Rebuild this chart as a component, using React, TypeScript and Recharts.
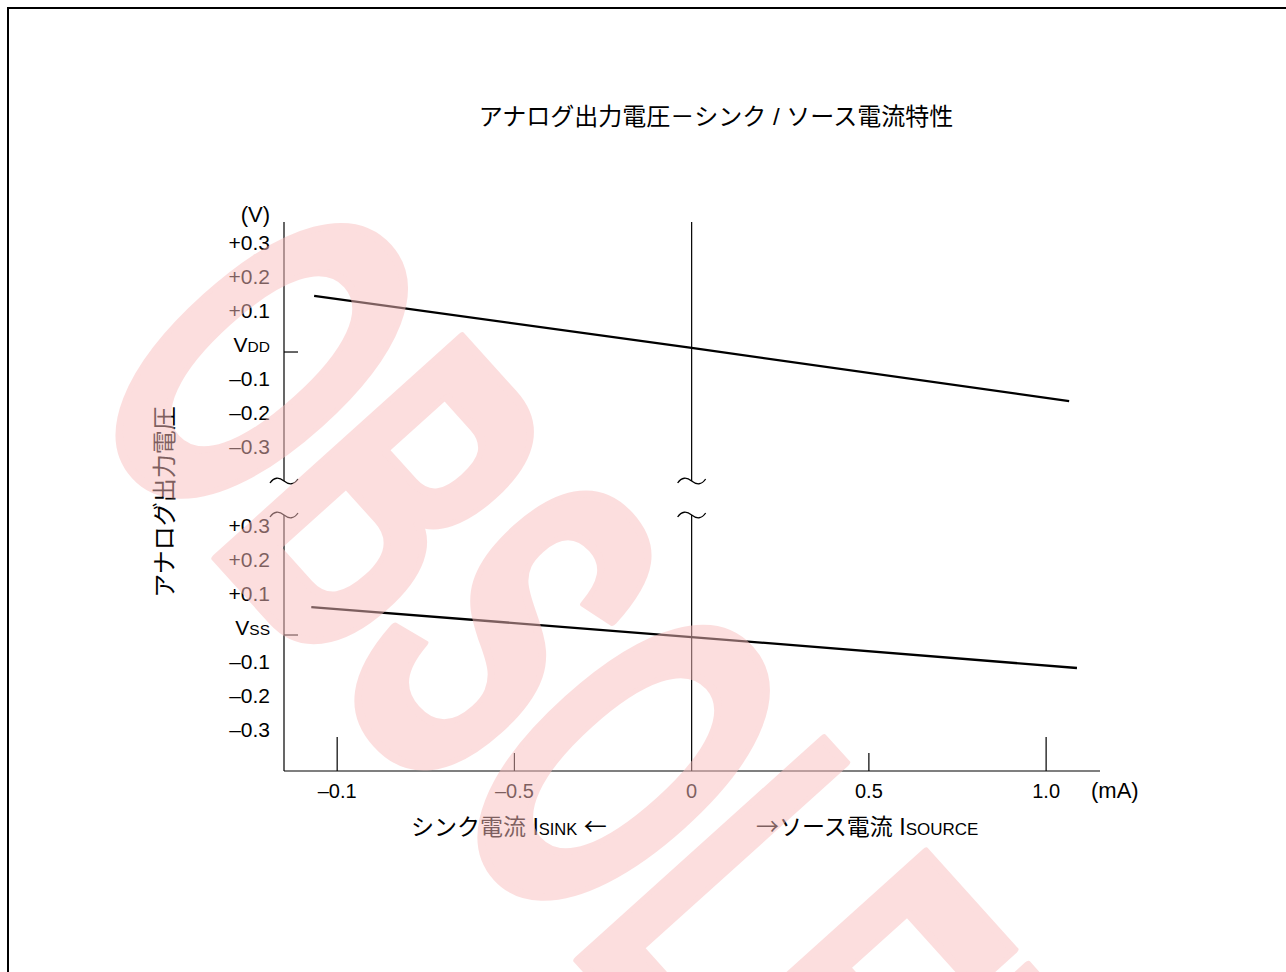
import React from 'react';
import { ComposedChart, Line, XAxis, YAxis, ReferenceLine, ReferenceDot } from 'recharts';

// current axis (mA), sink is negative, source positive
const currentTicks = [-1, -0.5, 0, 0.5, 1];
const currentTickLabels = ['–0.1', '–0.5', '0', '0.5', '1.0'];
const currentDomain = [-1.15, 1.152];

// deviation from the rail (V)
const voltTicks = [0.3, 0.2, 0.1, 0, -0.1, -0.2, -0.3];
const voltTickLabels = ['+0.3', '+0.2', '+0.1', 'V', '–0.1', '–0.2', '–0.3'];
const upperDomain = [-0.379, 0.382];
const lowerDomain = [-0.4, 0.353];

// VDD side curve
const vddCurrent = [-1.065, 0, 1.065];
const vddDelta = [0.165, 0.012, -0.144];

// VSS side curve
const vssCurrent = [-1.073, 0, 1.087];
const vssDelta = [0.082, -0.006, -0.097];

const vddData = vddCurrent.map((c, i) => ({ current: c, v: vddDelta[i] }));
const vssData = vssCurrent.map((c, i) => ({ current: c, v: vssDelta[i] }));

const LATIN = "'Liberation Sans', Arial, 'Noto Sans CJK JP', sans-serif";
const CJK = "'Noto Sans CJK JP', sans-serif";

const VoltTick = ({ x, y, payload, sub }: any) => {
  const i = voltTicks.indexOf(payload.value);
  const label = voltTickLabels[i];
  if (payload.value === 0) {
    return (
      <g>
        <text x={x} y={y} textAnchor="end" fontSize={21} fontFamily={LATIN} fill="#000">
          {label}
          <tspan fontSize={15.5}>{sub}</tspan>
        </text>
        <line x1={x + 14} x2={x + 28} y1={y} y2={y} stroke="#000" strokeWidth={1.2} />
      </g>
    );
  }
  return (
    <text x={x} y={y} textAnchor="end" fontSize={21} fontFamily={LATIN} fill="#000">
      {label}
    </text>
  );
};

const CurrentTick = ({ x, y, payload }: any) => {
  const i = currentTicks.indexOf(payload.value);
  const len = Math.abs(payload.value) === 1 ? 34 : Math.abs(payload.value) === 0.5 ? 18 : 0;
  return (
    <g>
      {len > 0 && <line x1={x} x2={x} y1={y} y2={y - len} stroke="#000" strokeWidth={1.2} />}
      <text x={x} y={y + 27} textAnchor="middle" fontSize={20} fontFamily={LATIN} fill="#000">
        {currentTickLabels[i]}
      </text>
    </g>
  );
};

// the "~" axis break mark
const BreakMark = ({ cx, cy }: any) => (
  <path
    d={`M${cx - 14},${cy + 2} C${cx - 10},${cy - 4} ${cx - 5},${cy - 4} ${cx},${cy} C${cx + 5},${cy + 4} ${cx + 10},${cy + 4} ${cx + 14},${cy - 2}`}
    fill="none"
    stroke="#000"
    strokeWidth={1.3}
  />
);

export default function App() {
  return (
    <div style={{ position: 'absolute', left: 0, top: 0, width: 1286, height: 972, overflow: 'hidden', background: '#fff' }}>
      <div style={{ position: 'absolute', left: 7, top: 7, width: 1320, height: 1020, border: '2px solid #000' }} />

      <svg width={1286} height={972} style={{ position: 'absolute', left: 0, top: 0 }}>
        <text x={716} y={125} textAnchor="middle" fontSize={24} fontFamily={LATIN} fill="#000">
          アナログ出力電圧－シンク / ソース電流特性
        </text>
        <text x={270} y={222} textAnchor="end" fontSize={22} fontFamily={LATIN} fill="#000">(V)</text>
        <text x={1091} y={798} fontSize={22} fontFamily={LATIN} fill="#000">(mA)</text>
        <text
          x={164}
          y={502}
          transform="rotate(-90 164 502)"
          textAnchor="middle"
          dominantBaseline="central"
          fontSize={24}
          fontFamily={LATIN}
          fill="#000"
        >
          アナログ出力電圧
        </text>
        <text x={411} y={835} fontSize={23} fontFamily={LATIN} fill="#000">
          シンク電流 I<tspan fontSize={16.5}>SINK</tspan> <tspan fontFamily={CJK}>←</tspan>
        </text>
        <text x={756} y={835} fontSize={23} fontFamily={LATIN} fill="#000">
          <tspan fontFamily={CJK}>→</tspan>ソース電流 I<tspan fontSize={17}>SOURCE</tspan>
        </text>
      </svg>

      {/* upper section: around VDD */}
      <div style={{ position: 'absolute', left: 0, top: 0 }}>
        <ComposedChart width={1286} height={500} data={vddData} margin={{ top: 222, right: 186, bottom: 19, left: 224 }}>
          <XAxis dataKey="current" type="number" domain={currentDomain} allowDataOverflow hide />
          <YAxis
            type="number"
            domain={upperDomain}
            allowDataOverflow
            ticks={voltTicks}
            width={60}
            tickSize={14}
            tickMargin={0}
            tickLine={false}
            axisLine={{ stroke: '#000', strokeWidth: 1.2 }}
            tick={(p: any) => <VoltTick {...p} sub="DD" />}
            interval={0}
          />
          <ReferenceLine x={0} stroke="#000" strokeWidth={1.2} />
          <ReferenceDot x={currentDomain[0]} y={upperDomain[0]} ifOverflow="visible" shape={BreakMark} />
          <ReferenceDot x={0} y={upperDomain[0]} ifOverflow="visible" shape={BreakMark} />
          <Line type="linear" dataKey="v" stroke="#000" strokeWidth={2.3} dot={false} isAnimationActive={false} />
        </ComposedChart>
      </div>

      {/* lower section: around VSS */}
      <div style={{ position: 'absolute', left: 0, top: 0 }}>
        <ComposedChart width={1286} height={972} data={vssData} margin={{ top: 515, right: 186, bottom: 161, left: 224 }}>
          <XAxis
            dataKey="current"
            type="number"
            domain={currentDomain}
            allowDataOverflow
            ticks={currentTicks}
            height={40}
            tickSize={0}
            tickMargin={0}
            tickLine={false}
            axisLine={{ stroke: '#000', strokeWidth: 1.2 }}
            tick={CurrentTick}
            interval={0}
          />
          <YAxis
            type="number"
            domain={lowerDomain}
            allowDataOverflow
            ticks={voltTicks}
            width={60}
            tickSize={14}
            tickMargin={0}
            tickLine={false}
            axisLine={{ stroke: '#000', strokeWidth: 1.2 }}
            tick={(p: any) => <VoltTick {...p} sub="SS" />}
            interval={0}
          />
          <ReferenceLine x={0} stroke="#000" strokeWidth={1.2} />
          <ReferenceDot x={currentDomain[0]} y={lowerDomain[1]} ifOverflow="visible" shape={BreakMark} />
          <ReferenceDot x={0} y={lowerDomain[1]} ifOverflow="visible" shape={BreakMark} />
          <Line type="linear" dataKey="v" stroke="#000" strokeWidth={2.3} dot={false} isAnimationActive={false} />
        </ComposedChart>
      </div>

      {/* OBSOLETE stamp over the whole sheet */}
      <svg width={1286} height={972} style={{ position: 'absolute', left: 0, top: 0, pointerEvents: 'none' }}>
        <g opacity={0.5}>
          <text
            transform="translate(74 400) rotate(48) scale(0.52 1)"
            fontSize={480}
            fontWeight="bold"
            fontFamily="'Liberation Sans', Arial, sans-serif"
            fill="rgb(250,190,190)"
            stroke="rgb(250,190,190)"
            strokeWidth={9}
            strokeLinejoin="round"
          >
            OBSOLETE
          </text>
        </g>
      </svg>
    </div>
  );
}
